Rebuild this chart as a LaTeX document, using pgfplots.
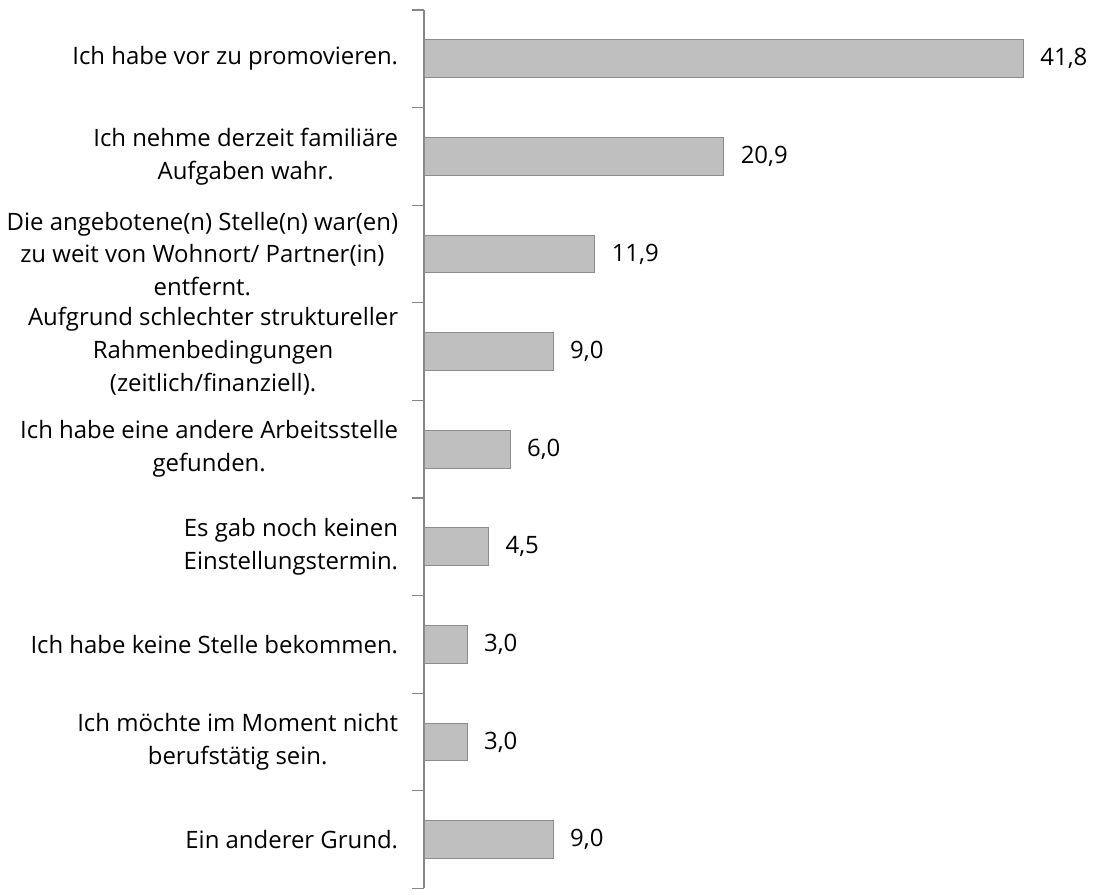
\documentclass[border=0pt]{standalone}
\usepackage{fontspec}
\setmainfont{Open Sans}
\usepackage{pgfplots}
\pgfplotsset{compat=1.18}
\definecolor{barfill}{HTML}{BFBFBF}
\definecolor{barline}{HTML}{8C8C8C}
\definecolor{axgray}{HTML}{868686}

\begin{document}
\begin{tikzpicture}[font=\fontsize{12}{16.5}\selectfont]
\begin{axis}[
  xbar,
  bar shift=0pt,
  bar width=19pt,
  width=323.5pt, height=440.5pt,
  scale only axis,
  xmin=0, xmax=45,
  ymin=-0.5, ymax=8.5,
  y dir=reverse,
  hide x axis,
  axis y line*=left,
  y axis line style={axgray, line width=0.6pt},
  ytick={0,...,8},
  major tick length=0pt,
  yticklabels={
    {Ich habe vor zu promovieren.},
    {Ich nehme derzeit familiäre\\Aufgaben wahr.},
    {Die angebotene(n) Stelle(n) war(en)\\zu weit von Wohnort/ Partner(in)\\entfernt.},
    {Aufgrund schlechter struktureller\\Rahmenbedingungen\\(zeitlich/finanziell).},
    {Ich habe eine andere Arbeitsstelle\\gefunden.},
    {Es gab noch keinen\\Einstellungstermin.},
    {Ich habe keine Stelle bekommen.},
    {Ich möchte im Moment nicht\\berufstätig sein.},
    {Ein anderer Grund.}
  },
  yticklabel style={align=center, anchor=east, xshift=-9.5pt, font=\fontsize{12}{16.5}\selectfont},
  extra y ticks={-0.5,0.5,1.5,2.5,3.5,4.5,5.5,6.5,7.5,8.5},
  extra y tick labels={},
  extra y tick style={major tick length=6pt, tick align=outside, tick style={axgray, line width=0.6pt}},
  nodes near coords,
  nodes near coords style={/pgf/number format/.cd, fixed, fixed zerofill, precision=1, use comma, assume math mode=true, /tikz/.cd, font=\fontsize{12}{16.5}\selectfont, xshift=5pt},
  clip=false,
]
\addplot[fill=barfill, draw=barline, line width=0.5pt] coordinates {
  (41.8,0) (20.9,1) (11.9,2) (9.0,3) (6.0,4) (4.5,5) (3.0,6) (3.0,7) (9.0,8)};
\end{axis}
\path ([yshift=5pt]current axis.north);
\end{tikzpicture}
\end{document}
